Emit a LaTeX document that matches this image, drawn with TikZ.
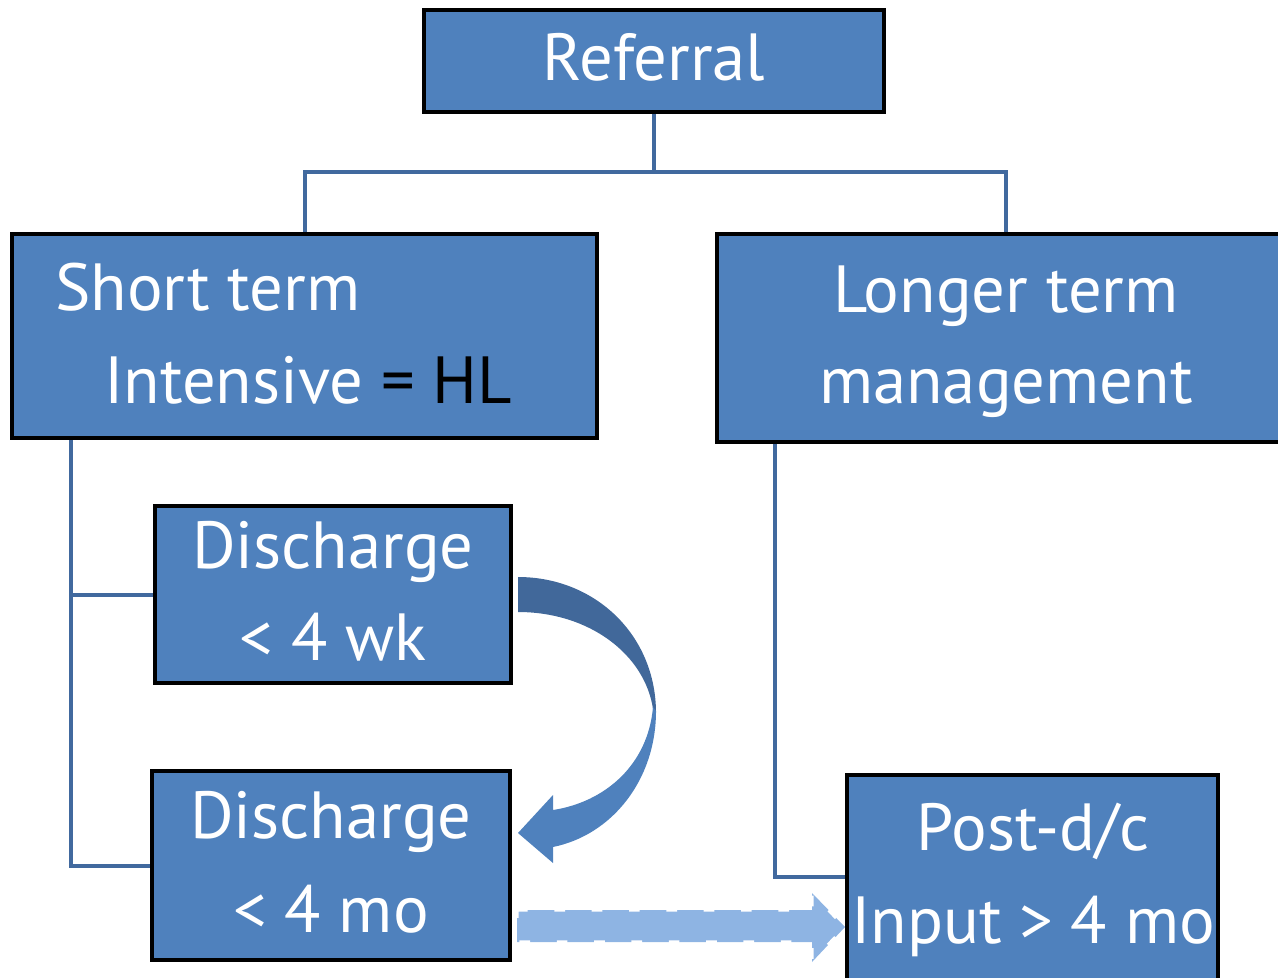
\documentclass[tikz,border=0pt]{standalone}
\usepackage{fontspec}
\setmainfont{PT Sans}
\usetikzlibrary{backgrounds}
\definecolor{boxblue}{HTML}{4F81BD}
\definecolor{linkblue}{HTML}{41699E}
\definecolor{arrdark}{HTML}{41689A}
\definecolor{lightarr}{HTML}{8EB4E3}
\begin{document}
\begin{tikzpicture}[x=0.75pt,y=-0.75pt,
  box/.style={draw=black,line width=3pt,fill=boxblue,rectangle,inner sep=0pt},
  conn/.style={draw=linkblue,line width=3pt},
  txt/.style={text=white,font=\fontsize{50}{60}\selectfont,anchor=base,inner sep=0pt}]
\useasboundingbox (0,0) rectangle (1278,978);
\clip (0,0) rectangle (1278,978);
% boxes
\node[box,minimum width=345pt,minimum height=76.5pt] (ref) at (654,61) {};
\node[box,minimum width=438.75pt,minimum height=153pt] (st) at (304.5,336) {};
\node[box,minimum width=423.75pt,minimum height=156pt] (lt) at (999.5,338) {};
\node[box,minimum width=267pt,minimum height=132.75pt] (d1) at (333,594.5) {};
\node[box,minimum width=268.5pt,minimum height=141.75pt] (d2) at (331,865.5) {};
\node[box,minimum width=278.25pt,minimum height=157.5pt] (pd) at (1032.5,880) {};
% connectors
\begin{scope}[on background layer]
\coordinate (j) at (654,172);
\draw[conn] (ref.south) -- (j);
\draw[conn] (j) -| (st.north);
\draw[conn] (j) -| ([xshift=4.875pt]lt.north);
\coordinate (lv) at (71,438);
\draw[conn] (lv) |- (d2.west);
\draw[conn] (lv |- d1.west) -- (d1.west);
\coordinate (rv) at (775,442);
\draw[conn] (rv) |- ([yshift=2.25pt]pd.west);
\end{scope}
% curved arrow
\fill[arrdark] (518,577) .. controls (595,577) and (656,635) .. (656,713)
  -- (653,709) .. controls (645,655) and (590,612) .. (518,612) -- cycle;
\fill[boxblue] (656,711) .. controls (656,780) and (612,835) .. (553,847)
  -- (553,863) -- (518,833) -- (553,795) -- (553,810)
  .. controls (605,802) and (648,765) .. (653,707) -- cycle;
% dashed block arrow
\fill[lightarr] (517,910) -- (812,910) -- (812,893) -- (845,927) -- (812,962) -- (812,942) -- (517,942) -- cycle;
\draw[white,line width=2.5pt,dash pattern=on 8pt off 20pt,dash phase=0pt] (517,910) -- (812,910) -- (812,893) -- (845,927) -- (812,962) -- (812,942) -- (517,942) -- cycle;
% texts
\node[txt] (tref) at (654,80) {Referral};
\node[txt,anchor=base west] (tst1) at (55,310) {Short term};
\node[txt,anchor=base west] (tst2) at (104,403) {Intensive {\color{black}= HL}};
\node[txt] (tlt1) at (1006,312) {Longer term};
\node[txt] (tlt2) at (1006,403) {management};
\node[txt] (td11) at (333,568) {Discharge};
\node[txt] (td12) at (333,660) {< 4 wk};
\node[txt] (td21) at (331,838) {Discharge};
\node[txt] (td22) at (331,932) {< 4 mo};
\node[txt] (tpd1) at (1033,850) {Post-d/c};
\node[txt] (tpd2) at (1033,943) {Input > 4 mo};
\end{tikzpicture}
\end{document}
